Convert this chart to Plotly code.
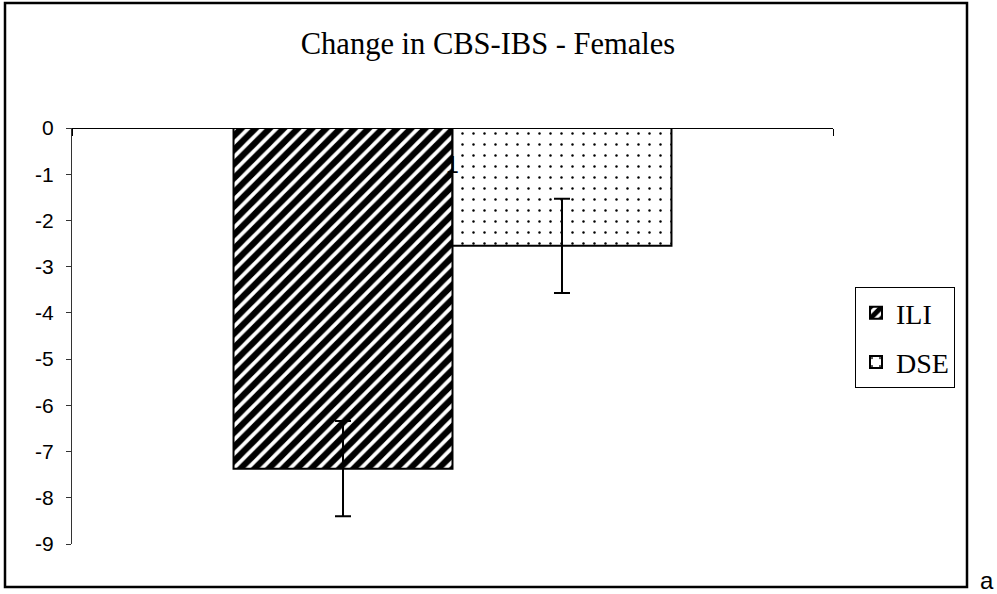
import plotly.graph_objects as go

# ---- data ----
categories = ["1"]
series_names = ["ILI", "DSE"]
ili_values = [-7.37]
dse_values = [-2.55]
ili_errors = [1.03]
dse_errors = [1.02]
y_tick_values = [0, -1, -2, -3, -4, -5, -6, -7, -8, -9]
y_tick_labels = ["0", "-1", "-2", "-3", "-4", "-5", "-6", "-7", "-8", "-9"]
title_text = "Change in CBS-IBS - Females"
corner_text = "a"

SERIF = "Liberation Serif, Times New Roman, serif"
SANS = "Liberation Sans, Arial, sans-serif"

W, H = 997, 594
L, R, T, B = 72, 833, 128, 544


def px_x(p):
    return (p - L) / (R - L)


def px_y(p):
    return (B - p) / (B - T)


fig = go.Figure()
fig.add_trace(go.Bar(
    name=series_names[0], x=categories, y=ili_values,
    legendgroup="g1",
    marker=dict(color="white",
                line=dict(color="black", width=2),
                pattern=dict(shape="/", fgcolor="black", bgcolor="white",
                             fgopacity=1, fillmode="replace",
                             size=10, solidity=0.62)),
    error_y=dict(type="data", array=ili_errors, visible=True,
                 color="black", thickness=2, width=8),
))
fig.add_trace(go.Bar(
    name=series_names[1], x=categories, y=dse_values,
    legendgroup="g2",
    marker=dict(color="white",
                line=dict(color="black", width=2),
                pattern=dict(shape=".", fgcolor="black", bgcolor="white",
                             fgopacity=1, fillmode="replace",
                             size=11, solidity=0.04)),
    error_y=dict(type="data", array=dse_errors, visible=True,
                 color="black", thickness=2, width=8),
))

fig.update_layout(
    width=W, height=H, autosize=False,
    margin=dict(l=L, r=W - R, t=T, b=H - B, pad=0),
    paper_bgcolor="white", plot_bgcolor="white",
    barmode="group", bargap=0.4245, bargroupgap=0,
    showlegend=True,
    title=dict(text=title_text, x=px_x(488), xanchor="center",
               xref="paper", y=1 - 43 / H, yanchor="middle",
               font=dict(family=SERIF, size=30.5, color="black")),
    legend=dict(x=px_x(855), y=px_y(287), xanchor="left", yanchor="top",
                bordercolor="black", borderwidth=1, bgcolor="white",
                font=dict(family=SERIF, size=28, color="black"),
                traceorder="grouped", tracegroupgap=10),
    xaxis=dict(type="category", side="bottom", anchor="free", position=1,
               showline=True, linecolor="black", linewidth=1, mirror=False,
               ticks="outside", tickson="boundaries", ticklen=7,
               tickcolor="black", ticklabelstandoff=16,
               tickfont=dict(family=SANS, size=23, color="black"),
               showgrid=False, zeroline=False, fixedrange=True),
    yaxis=dict(range=[-9, 0], tickvals=y_tick_values, ticktext=y_tick_labels,
               showline=True, linecolor="#333", linewidth=1,
               ticks="outside", ticklen=5, tickcolor="#333",
               ticklabelstandoff=8,
               tickfont=dict(family=SANS, size=21, color="black"),
               showgrid=False, zeroline=False, fixedrange=True),
    shapes=[dict(type="rect", xref="paper", yref="paper",
                 x0=px_x(5), x1=px_x(967), y0=px_y(587), y1=px_y(3),
                 line=dict(color="black", width=2.5),
                 fillcolor="rgba(0,0,0,0)", layer="below")],
    annotations=[dict(text=corner_text, xref="paper", yref="paper",
                      x=px_x(987), y=px_y(580), xanchor="center",
                      yanchor="middle", showarrow=False,
                      font=dict(family=SANS, size=24, color="black"))],
)

fig.write_html("out.html",
               config={"displayModeBar": False, "staticPlot": True},
               post_script="document.body.style.margin='0';"
                           "document.body.style.overflow='hidden';")
